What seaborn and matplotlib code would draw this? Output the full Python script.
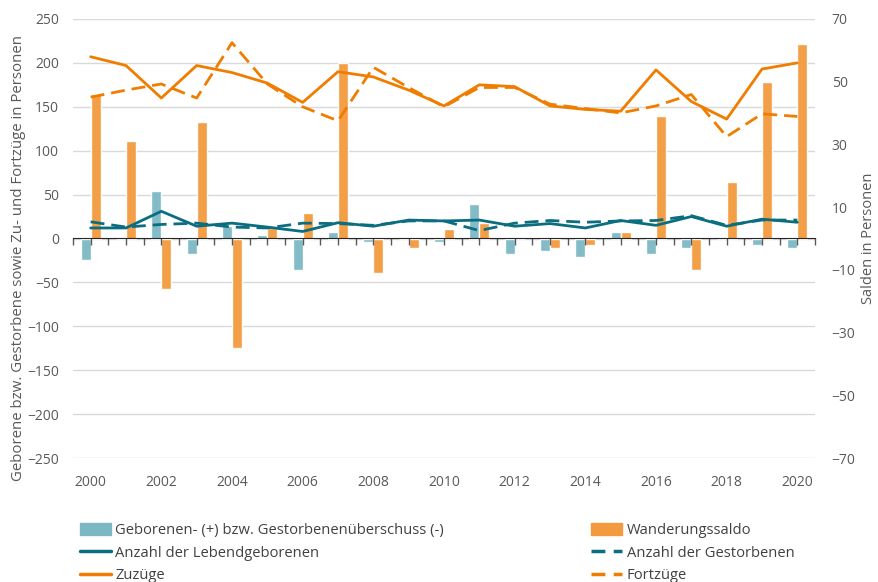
import matplotlib
matplotlib.use("Agg")
import matplotlib.pyplot as plt
from matplotlib.patches import Patch
from matplotlib.lines import Line2D
import seaborn as sns
import numpy as np
import pandas as pd

# values
jahre = list(range(2000, 2021))
geb_ueberschuss = [-7, 0, 15, -5, 4, 1, -10, 2, -1, 0, -1, 11, -5, -4, -6, 2, -5, -3, 0, -2, -3]
wanderungssaldo = [46, 31, -16, 37, -35, 3.5, 8, 56, -11, -3, 3, 5, 0, -3, -2, 2, 39, -10, 18, 50, 62]
lebendgeborene = [12, 12, 31, 14, 17.5, 13, 8, 18, 14, 21, 20, 21, 14, 17, 12, 20.5, 15, 25, 14, 22, 18.5]
gestorbene = [19, 13, 16, 17.5, 13, 12, 17.5, 17, 15, 20, 20, 9, 17.5, 20.5, 18.5, 20, 20.5, 26, 15, 21, 21]
zuzuege = [207, 197, 160, 197, 189, 177, 155, 190, 184, 169, 151, 175, 173, 151, 147, 145, 192, 156, 136, 193, 200]
fortzuege = [161, 169, 176, 160, 223, 176, 150, 134, 195, 172, 150, 172, 172, 153, 148, 143, 151, 164, 116, 142, 139]

lab_geb = "Geborenen- (+) bzw. Gestorbenenüberschuss (-)"
lab_wan = "Wanderungssaldo"
lab_leb = "Anzahl der Lebendgeborenen"
lab_ges = "Anzahl der Gestorbenen"
lab_zu = "Zuzüge"
lab_fort = "Fortzüge"

c_teal_bar = "#7cb8c4"
c_orange_bar = "#f39a3e"
c_teal = "#0b6e80"
c_orange = "#f07d00"
c_text = "#595959"

sns.set_style("white")
plt.rcParams["font.family"] = ["Open Sans", "DejaVu Sans"]

bars = pd.DataFrame({
    "Jahr": jahre * 2,
    "Wert": geb_ueberschuss + wanderungssaldo,
    "Reihe": [lab_geb] * len(jahre) + [lab_wan] * len(jahre),
})

fig = plt.figure(figsize=(8.79, 5.82), dpi=100)
ax = fig.add_axes([73 / 879, 1 - 458 / 582, (815 - 73) / 879, (458 - 19) / 582])
axb = ax.twinx()
axl = ax.twinx()

# left axis: grid + ticks only
ax.set_xlim(1999.5, 2020.5)
ax.set_ylim(-250, 250)
ax.set_yticks(np.arange(-250, 251, 50))
ax.yaxis.grid(True, color="#d9d9d9", lw=1)
ax.set_xticks(range(2000, 2021, 2))
ax.tick_params(axis="both", length=0, labelsize=10, labelcolor=c_text)
ax.tick_params(axis="x", pad=12)
ax.tick_params(axis="y", pad=10)
ax.set_ylabel("Geborene bzw. Gestorbene sowie Zu- und Fortzüge in Personen",
              fontsize=10.8, color=c_text)
ax.yaxis.set_label_coords(-0.064, 0.455)
for s in ax.spines.values():
    s.set_visible(False)

# right axis: bars
sns.barplot(data=bars, x="Jahr", y="Wert", hue="Reihe", native_scale=True,
            palette=[c_teal_bar, c_orange_bar], width=0.57, errorbar=None,
            saturation=1, alpha=0.95, legend=False, ax=axb)
axb.set_xlim(1999.5, 2020.5)
axb.set_ylim(-70, 70)
axb.set_yticks(np.arange(-70, 71, 20))
axb.tick_params(axis="both", length=0, labelsize=10, labelcolor=c_text)
axb.tick_params(axis="y", pad=12)
axb.set_xlabel("")
axb.set_ylabel("Salden in Personen", fontsize=10.5, color=c_text, labelpad=4)
axb.yaxis.set_label_position("right")
for s in axb.spines.values():
    s.set_visible(False)

# lines on the left scale, on top
sns.lineplot(x=jahre, y=lebendgeborene, color=c_teal, lw=2, ax=axl)
sns.lineplot(x=jahre, y=gestorbene, color=c_teal, lw=2, ax=axl,
             linestyle=(0, (5, 2.5)))
sns.lineplot(x=jahre, y=zuzuege, color=c_orange, lw=2, ax=axl)
sns.lineplot(x=jahre, y=fortzuege, color=c_orange, lw=2, ax=axl,
             linestyle=(0, (5, 2.5)))
axl.set_xlim(1999.5, 2020.5)
axl.set_ylim(-250, 250)
axl.set_yticks([])
axl.tick_params(axis="x", length=0, labelbottom=False)
for s in axl.spines.values():
    s.set_visible(False)

# zero line with year ticks
zero = axl.secondary_xaxis(0.5)
zero.set_xticks(np.arange(1999.5, 2020.6, 0.5))
zero.set_xticklabels([])
zero.tick_params(axis="x", direction="in", length=5, width=1, color=c_text,
                 labelbottom=False, labeltop=False)
zero.spines["bottom"].set_color(c_text)
zero.spines["bottom"].set_linewidth(1.2)

handles = [
    Patch(color=c_teal_bar, label=lab_geb),
    Line2D([], [], color=c_teal, lw=2.5, label=lab_leb),
    Line2D([], [], color=c_orange, lw=2.5, label=lab_zu),
    Patch(color=c_orange_bar, label=lab_wan),
    Line2D([], [], color=c_teal, lw=2.5, ls=(0, (4, 2.4)), label=lab_ges),
    Line2D([], [], color=c_orange, lw=2.5, ls=(0, (4, 2.4)), label=lab_fort),
]
fig.legend(handles=handles, ncol=2, loc="upper left",
           bbox_to_anchor=(80 / 879, 1 - 523 / 582), frameon=False,
           fontsize=10.6, handlelength=2.1, handleheight=0.9, handletextpad=0.3,
           labelspacing=0.5, columnspacing=10.0, borderpad=0, borderaxespad=0,
           labelcolor="#404040")

fig.savefig("out.png", dpi=100)
